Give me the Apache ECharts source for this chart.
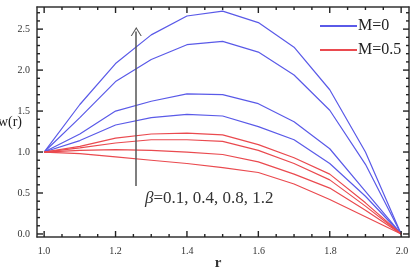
<!DOCTYPE html>
<html>
<head>
<meta charset="utf-8">
<script src="https://cdn.jsdelivr.net/npm/echarts@6/dist/echarts.min.js"></script>
<style>
  html, body { margin: 0; padding: 0; background: #fff; }
  #chart { width: 419px; height: 272px; }
</style>
</head>
<body>
<div id="chart"></div>
<script>
// r grid, values
const rValues = [1.0, 1.1, 1.2, 1.3, 1.4, 1.5, 1.6, 1.7, 1.8, 1.9, 2.0]

// M=0 (blue), beta = 0.1, 0.4, 0.8, 1.2
const blueB01 = [1, 1.14, 1.33, 1.42, 1.46, 1.44, 1.31, 1.15, 0.86, 0.46, 0]
const blueB04 = [1, 1.22, 1.50, 1.62, 1.71, 1.70, 1.59, 1.37, 1.04, 0.52, 0]
const blueB08 = [1, 1.42, 1.86, 2.13, 2.31, 2.35, 2.22, 1.94, 1.51, 0.85, 0]
const blueB12 = [1, 1.58, 2.08, 2.43, 2.66, 2.72, 2.58, 2.28, 1.76, 1.00, 0]

// M=0.5 (red), beta = 0.1, 0.4, 0.8, 1.2
const redB01 = [1, 0.98, 0.94, 0.90, 0.86, 0.81, 0.75, 0.61, 0.42, 0.21, 0]
const redB04 = [1, 1.02, 1.03, 1.02, 1.00, 0.97, 0.88, 0.73, 0.56, 0.29, 0]
const redB08 = [1, 1.05, 1.11, 1.15, 1.15, 1.13, 1.02, 0.86, 0.66, 0.34, 0]
const redB12 = [1, 1.07, 1.17, 1.22, 1.23, 1.21, 1.09, 0.93, 0.73, 0.38, 0]

const xTickLabels = ['1.0', '1.2', '1.4', '1.6', '1.8', '2.0']
const yTickLabels = ['0.0', '0.5', '1.0', '1.5', '2.0', '2.5']

// tick positions on the frame (major ones carry the labels)
const xMajorTicks = [1.0, 1.2, 1.4, 1.6, 1.8, 2.0]
const xMinorTicks = [1.05, 1.1, 1.15, 1.25, 1.3, 1.35, 1.45, 1.5, 1.55, 1.65, 1.7, 1.75, 1.85, 1.9, 1.95]
const yMajorTicks = [0, 0.5, 1.0, 1.5, 2.0, 2.5]
const yMinorTicks = [0.1, 0.2, 0.3, 0.4, 0.6, 0.7, 0.8, 0.9, 1.1, 1.2, 1.3, 1.4,
  1.6, 1.7, 1.8, 1.9, 2.1, 2.2, 2.3, 2.4, 2.6, 2.7]

// arrow annotation: r position, from / to (data units)
const arrowR = 1.258
const arrowFrom = 0.585
const arrowTo = 2.47

const legendNames = ['M=0', 'M=0.5']
const betaText = '=0.1, 0.4, 0.8, 1.2'

const font = "'Liberation Serif', 'Times New Roman', serif"
const frameColor = '#333'
const blue = '#5a5ae8'
const red = '#ea4a4f'

const xMin = 0.98, xMax = 2.022
const yMin = -0.037, yMax = 2.77

// frame box in pixels; second grid only places the tick labels (r 1..2, w 0..2.5)
const frame = { left: 37, right: 10, top: 7, bottom: 35 }
const pxPerW = 81.9
const wZeroBottom = 38
const rLeft = 44, rRight = 17
const labelTop = 272 - wZeroBottom - 2.5 * pxPerW

const hiddenAxis = {
  splitLine: { show: false },
  axisTick: { show: false },
  axisLabel: { show: false }
}
const frameLine = { show: true, onZero: false, lineStyle: { color: frameColor, width: 1.5 } }

const labelAxis = (position, min, max, interval, offset, labelOpts) => ({
  type: 'value',
  gridIndex: 1,
  position: position,
  min: min,
  max: max,
  interval: interval,
  offset: offset,
  splitLine: { show: false },
  axisLine: { show: false, onZero: false },
  axisTick: { show: false },
  axisLabel: Object.assign({ show: true, fontFamily: font, fontSize: 10, color: '#333' }, labelOpts)
})

const toPairs = (ys) => rValues.map((r, i) => [r, ys[i]])

const lineSeries = (name, ys, color) => ({
  name: name,
  type: 'line',
  data: toPairs(ys),
  symbol: 'none',
  silent: true,
  lineStyle: { color: color, width: 1.2 },
  itemStyle: { color: color }
})

let option = {
  animation: false,
  backgroundColor: '#fff',
  grid: [
    Object.assign({ containLabel: false, outerBoundsMode: 'none' }, frame),
    { left: rLeft, right: rRight, top: labelTop, bottom: wZeroBottom, containLabel: false, outerBoundsMode: 'none' }
  ],
  legend: {
    data: legendNames,
    orient: 'vertical',
    left: 315,
    top: 13,
    icon: 'rect',
    itemWidth: 37,
    itemHeight: 2,
    itemGap: 8,
    selectedMode: false,
    textStyle: { fontFamily: font, fontSize: 16, color: '#222', padding: [0, 0, 0, -4] }
  },
  xAxis: [
    Object.assign({
      type: 'value', gridIndex: 0, position: 'bottom', min: xMin, max: xMax,
      axisLine: frameLine,
      name: 'r',
      nameLocation: 'middle',
      nameGap: 19,
      nameMoveOverlap: false,
      nameTextStyle: { fontFamily: font, fontSize: 15, fontWeight: 'bold', color: '#333', padding: [0, 10, 0, 0] }
    }, hiddenAxis),
    Object.assign({ type: 'value', gridIndex: 0, position: 'top', min: xMin, max: xMax, axisLine: frameLine }, hiddenAxis),
    labelAxis('bottom', 1, 2, 0.2, 3, { margin: 9, formatter: (v, i) => xTickLabels[i] })
  ],
  yAxis: [
    Object.assign({
      type: 'value', gridIndex: 0, position: 'left', min: yMin, max: yMax,
      axisLine: frameLine,
      name: 'w(r)',
      nameLocation: 'middle',
      nameRotate: 0,
      nameGap: 15,
      nameMoveOverlap: false,
      nameTextStyle: { fontFamily: font, fontSize: 14, color: '#222', padding: [24, 0, 0, 0] }
    }, hiddenAxis),
    Object.assign({ type: 'value', gridIndex: 0, position: 'right', min: yMin, max: yMax, axisLine: frameLine }, hiddenAxis),
    labelAxis('left', 0, 2.5, 0.5, rLeft - frame.left, { margin: 7, formatter: (v, i) => yTickLabels[i] })
  ],
  series: [
    lineSeries('M=0', blueB01, blue),
    lineSeries('M=0', blueB04, blue),
    lineSeries('M=0', blueB08, blue),
    lineSeries('M=0', blueB12, blue),
    lineSeries('M=0.5', redB01, red),
    lineSeries('M=0.5', redB04, red),
    lineSeries('M=0.5', redB08, red),
    lineSeries('M=0.5', redB12, red),
    {
      name: 'arrow',
      type: 'line',
      data: [],
      silent: true,
      markLine: {
        silent: true,
        animation: false,
        symbol: ['none', 'path://M0,10 L5,0 L10,10 L9,10 L5,2.2 L1,10 Z'],
        symbolSize: [11, 9],
        label: { show: false },
        lineStyle: { color: '#555', width: 1.5, type: 'solid' },
        emphasis: { disabled: true },
        data: [[
          { coord: [arrowR, arrowFrom] },
          { coord: [arrowR, arrowTo] }
        ]]
      }
    }
  ]
}

let myChart = echarts.init(document.getElementById('chart'), null, { renderer: 'canvas' })
option && myChart.setOption(option)

// inward frame ticks on all four sides, placed through the axis scales
const toPx = (x, y) => myChart.convertToPixel({ xAxisIndex: 0, yAxisIndex: 0 }, [x, y])
const tickLine = (x1, y1, x2, y2) => ({
  type: 'line',
  silent: true,
  z: 50,
  shape: { x1: x1, y1: y1, x2: x2, y2: y2 },
  style: { stroke: '#222', lineWidth: 1.4 }
})
let graphics = [
  {
    type: 'text',
    left: 145,
    top: 190,
    silent: true,
    style: {
      text: '{b|β}' + betaText,
      fontFamily: font,
      fontSize: 17,
      fill: '#333',
      rich: {
        b: { fontFamily: font, fontSize: 17, fontStyle: 'italic', fill: '#333' }
      }
    }
  }
]
const addXTicks = (values, len) => values.forEach(v => {
  const b = toPx(v, yMin), t = toPx(v, yMax)
  graphics.push(tickLine(b[0], b[1], b[0], b[1] - len))
  graphics.push(tickLine(t[0], t[1], t[0], t[1] + len))
})
const addYTicks = (values, len) => values.forEach(v => {
  const l = toPx(xMin, v), r = toPx(xMax, v)
  graphics.push(tickLine(l[0], l[1], l[0] + len, l[1]))
  graphics.push(tickLine(r[0], r[1], r[0] - len, r[1]))
})
addXTicks(xMajorTicks, 6)
addXTicks(xMinorTicks, 3)
addYTicks(yMajorTicks, 6)
addYTicks(yMinorTicks, 3)
myChart.setOption({ graphic: graphics })
</script>
</body>
</html>
